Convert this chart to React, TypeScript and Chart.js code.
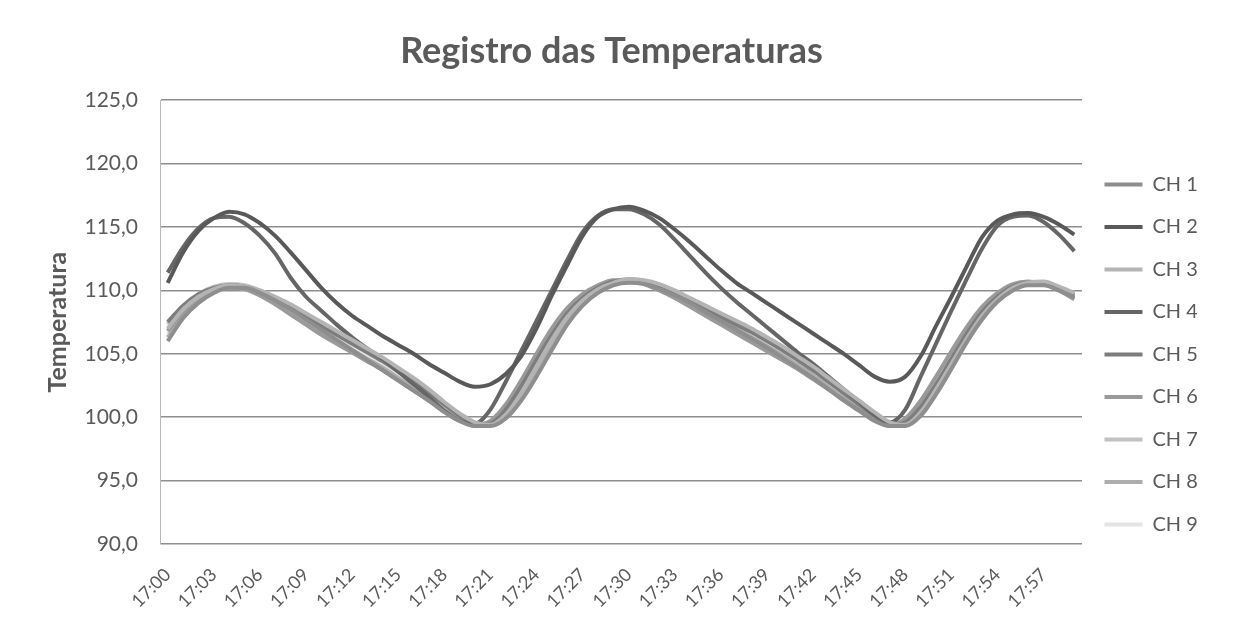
import React, { useEffect, useRef } from 'react';
import { Chart, registerables } from 'chart.js';

Chart.register(...registerables);

const categories = [
  '17:00', '17:01', '17:02', '17:03', '17:04', '17:05', '17:06', '17:07', '17:08', '17:09',
  '17:10', '17:11', '17:12', '17:13', '17:14', '17:15', '17:16', '17:17', '17:18', '17:19',
  '17:20', '17:21', '17:22', '17:23', '17:24', '17:25', '17:26', '17:27', '17:28', '17:29',
  '17:30', '17:31', '17:32', '17:33', '17:34', '17:35', '17:36', '17:37', '17:38', '17:39',
  '17:40', '17:41', '17:42', '17:43', '17:44', '17:45', '17:46', '17:47', '17:48', '17:49',
  '17:50', '17:51', '17:52', '17:53', '17:54', '17:55', '17:56', '17:57', '17:58', '17:59',
];

const tickLabels = [
  '17:00', '17:03', '17:06', '17:09', '17:12', '17:15', '17:18', '17:21', '17:24', '17:27',
  '17:30', '17:33', '17:36', '17:39', '17:42', '17:45', '17:48', '17:51', '17:54', '17:57',
];

const seriesNames = ['CH 1', 'CH 2', 'CH 3', 'CH 4', 'CH 5', 'CH 6', 'CH 7', 'CH 8', 'CH 9'];

const ch1 = [
  106.0, 107.8, 109.0, 109.8, 110.2, 110.2, 109.8, 109.2, 108.5, 107.7,
  106.9, 106.1, 105.3, 104.5, 103.7, 102.9, 102.1, 101.3, 100.4, 99.7,
  99.3, 99.3, 99.9, 101.3, 103.2, 105.3, 107.3, 108.8, 109.8, 110.4,
  110.6, 110.5, 110.1, 109.6, 109.0, 108.3, 107.6, 106.9, 106.2, 105.5,
  104.7, 103.9, 103.1, 102.2, 101.3, 100.5, 99.7, 99.3, 99.3, 100.1,
  101.8, 103.8, 105.9, 107.7, 109.1, 110.0, 110.4, 110.4, 110.0, 109.4,
];

const ch2 = [
  110.6, 113.0, 114.7, 115.7, 116.2, 116.0, 115.3, 114.3, 113.0, 111.6,
  110.2, 109.0, 108.0, 107.2, 106.4, 105.7, 105.0, 104.2, 103.5, 102.8,
  102.4, 102.6, 103.4, 104.8, 107.0, 109.6, 112.0, 114.3, 115.8, 116.4,
  116.6, 116.3, 115.7, 114.8, 113.8, 112.7, 111.6, 110.6, 109.8, 109.0,
  108.2, 107.4, 106.6, 105.8, 105.0, 104.1, 103.2, 102.8, 103.2, 104.8,
  107.2, 109.5, 111.9, 114.2, 115.5, 116.0, 116.1, 115.8, 115.2, 114.4,
];

const ch3 = [
  107.0, 108.5, 109.5, 110.1, 110.4, 110.3, 110.0, 109.5, 108.9, 108.2,
  107.5, 106.8, 106.1, 105.4, 104.7, 103.9, 103.1, 102.2, 101.2, 100.3,
  99.6, 99.4, 100.2, 101.9, 104.0, 106.1, 107.9, 109.2, 110.1, 110.6,
  110.9, 110.8, 110.5, 110.0, 109.4, 108.8, 108.2, 107.6, 107.0, 106.3,
  105.6, 104.8, 104.0, 103.1, 102.2, 101.3, 100.4, 99.6, 99.4, 100.4,
  102.2, 104.2, 106.2, 108.0, 109.3, 110.2, 110.6, 110.7, 110.3, 109.8,
];

const ch4 = [
  111.4, 113.4, 114.9, 115.7, 115.8, 115.3, 114.3, 112.9, 111.0, 109.5,
  108.4, 107.3, 106.3, 105.4, 104.6, 103.6, 102.6, 101.6, 100.5, 99.7,
  99.5, 100.6, 102.8, 105.2, 107.6, 110.0, 112.4, 114.6, 115.9, 116.4,
  116.4, 116.0, 115.2, 114.0, 112.7, 111.4, 110.2, 109.1, 108.1, 107.1,
  106.1, 105.1, 104.2, 103.2, 102.2, 101.2, 100.2, 99.6, 100.6, 103.2,
  105.8, 108.4, 110.9, 113.3, 115.1, 115.8, 115.9, 115.4, 114.4, 113.1,
];

const ch5 = [
  107.5, 108.8, 109.7, 110.2, 110.4, 110.3, 109.9, 109.3, 108.6, 107.9,
  107.2, 106.5, 105.8, 105.1, 104.4, 103.6, 102.8, 101.9, 101.0, 100.1,
  99.4, 99.5, 100.6, 102.4, 104.5, 106.5, 108.2, 109.4, 110.2, 110.7,
  110.8, 110.6, 110.2, 109.7, 109.1, 108.5, 107.9, 107.3, 106.7, 106.0,
  105.3, 104.5, 103.7, 102.8, 101.9, 101.0, 100.1, 99.4, 99.6, 100.8,
  102.6, 104.6, 106.6, 108.3, 109.5, 110.3, 110.6, 110.5, 110.1, 109.6,
];

const ch6 = [
  106.8, 108.3, 109.4, 110.0, 110.3, 110.1, 109.6, 108.9, 108.1, 107.3,
  106.5, 105.8, 105.1, 104.4, 103.7, 102.9, 102.1, 101.3, 100.5, 99.8,
  99.4, 99.7, 101.0, 102.9, 105.0, 107.0, 108.6, 109.7, 110.4, 110.8,
  110.8, 110.5, 110.0, 109.4, 108.7, 108.0, 107.3, 106.6, 105.9, 105.2,
  104.5, 103.8, 103.0, 102.2, 101.4, 100.6, 99.9, 99.4, 99.9, 101.3,
  103.2, 105.2, 107.1, 108.7, 109.8, 110.5, 110.7, 110.5, 110.0, 109.3,
];

const ch7 = [
  107.3, 108.7, 109.7, 110.3, 110.5, 110.4, 110.0, 109.4, 108.7, 108.0,
  107.3, 106.6, 105.9, 105.2, 104.5, 103.7, 102.9, 102.0, 101.1, 100.2,
  99.5, 99.4, 100.3, 102.1, 104.2, 106.3, 108.0, 109.3, 110.2, 110.7,
  110.9, 110.7, 110.3, 109.8, 109.2, 108.6, 108.0, 107.4, 106.8, 106.1,
  105.4, 104.6, 103.8, 102.9, 102.0, 101.1, 100.2, 99.5, 99.5, 100.6,
  102.4, 104.4, 106.4, 108.1, 109.4, 110.2, 110.6, 110.6, 110.2, 109.7,
];

const ch8 = [
  106.3, 108.0, 109.2, 109.9, 110.2, 110.1, 109.7, 109.1, 108.4, 107.6,
  106.8, 106.0, 105.3, 104.6, 103.9, 103.1, 102.3, 101.5, 100.6, 99.8,
  99.3, 99.4, 100.0, 101.6, 103.6, 105.7, 107.6, 109.0, 110.0, 110.5,
  110.7, 110.6, 110.2, 109.7, 109.1, 108.4, 107.7, 107.0, 106.3, 105.6,
  104.9, 104.1, 103.3, 102.4, 101.5, 100.6, 99.8, 99.3, 99.4, 100.3,
  102.0, 104.0, 106.0, 107.8, 109.2, 110.1, 110.5, 110.5, 110.1, 109.5,
];

const ch9 = [
  106.6, 108.1, 109.3, 110.0, 110.3, 110.2, 109.8, 109.2, 108.5, 107.8,
  107.0, 106.3, 105.6, 104.9, 104.1, 103.3, 102.5, 101.6, 100.7, 99.9,
  99.4, 99.5, 100.4, 102.2, 104.3, 106.3, 108.0, 109.3, 110.1, 110.6,
  110.8, 110.6, 110.2, 109.7, 109.1, 108.5, 107.8, 107.1, 106.4, 105.7,
  105.0, 104.2, 103.4, 102.5, 101.6, 100.7, 99.9, 99.4, 99.5, 100.5,
  102.3, 104.3, 106.3, 108.0, 109.3, 110.2, 110.5, 110.5, 110.1, 109.6,
];

const seriesValues = [ch1, ch2, ch3, ch4, ch5, ch6, ch7, ch8, ch9];
const seriesColors = ['#8e8e8e', '#595959', '#b4b4b4', '#666666', '#7d7d7d', '#9a9a9a', '#c2c2c2', '#adadad', '#e4e4e4'];

const FONT = 'Lato, "Open Sans", "DejaVu Sans", sans-serif';
const TEXT = '#5a5a5a';

export default function App() {
  const ref = useRef<HTMLCanvasElement | null>(null);

  useEffect(() => {
    if (!ref.current) return;
    const legendShift = {
      id: 'legendShift',
      afterLayout(chart: any) {
        if (chart.legend) {
          const h = chart.legend.bottom - chart.legend.top;
          chart.legend.top = 152;
          chart.legend.bottom = 152 + h;
        }
      },
    };
    const chart = new Chart(ref.current, {
      type: 'line',
      data: {
        labels: categories,
        datasets: seriesNames.map((name, i) => ({
          label: name,
          data: seriesValues[i],
          borderColor: seriesColors[i],
          backgroundColor: seriesColors[i],
          borderWidth: 4,
          pointRadius: 0,
          pointStyle: 'line',
          cubicInterpolationMode: 'monotone',
          fill: false,
        })),
      },
      options: {
        responsive: false,
        animation: false,
        devicePixelRatio: 1,
        layout: { padding: { left: 26, right: 60, top: 0, bottom: 0 } },
        plugins: {
          title: {
            display: true,
            text: 'Registro das Temperaturas',
            color: TEXT,
            font: { family: FONT, size: 36, weight: 'bold' },
            padding: { top: 30, bottom: 27 },
          },
          legend: {
            display: true,
            position: 'right',
            align: 'start',
            maxWidth: 115,
            labels: {
              usePointStyle: true,
              pointStyle: 'line',
              pointStyleWidth: 38,
              boxWidth: 38,
              padding: 22.5,
              color: TEXT,
              font: { family: FONT, size: 20 },
            },
          },
          tooltip: { enabled: false },
        },
        scales: {
          x: {
            type: 'category',
            offset: true,
            grid: { display: false, drawTicks: false },
            border: { display: false },
            ticks: {
              autoSkip: false,
              minRotation: 45,
              maxRotation: 45,
              padding: 20,
              color: TEXT,
              font: { family: FONT, size: 18 },
              callback: (_v: any, idx: number) =>
                tickLabels.includes(categories[idx]) ? categories[idx] : '',
            },
            afterFit: (scale: any) => {
              scale.height = 88;
            },
          },
          y: {
            min: 90,
            max: 125,
            grid: { color: '#8e8e8e', lineWidth: 1.5, drawTicks: false },
            border: { display: true, color: '#b8b8b8', width: 1 },
            ticks: {
              stepSize: 5,
              padding: 22,
              color: TEXT,
              font: { family: FONT, size: 21 },
              callback: (v: any) => Number(v).toFixed(1).replace('.', ','),
            },
            title: {
              display: true,
              text: 'Temperatura',
              color: TEXT,
              font: { family: FONT, size: 25, weight: 'bold' },
              padding: { top: 17, bottom: 0 },
            },
            afterFit: (scale: any) => {
              scale.width = 134;
            },
          },
        },
      },
      plugins: [legendShift],
    } as any);
    return () => chart.destroy();
  }, []);

  return (
    <div style={{ position: 'absolute', left: 0, top: 0, width: 1257, height: 632, background: '#ffffff' }}>
      <canvas ref={ref} width={1257} height={632} style={{ display: 'block' }} />
    </div>
  );
}
